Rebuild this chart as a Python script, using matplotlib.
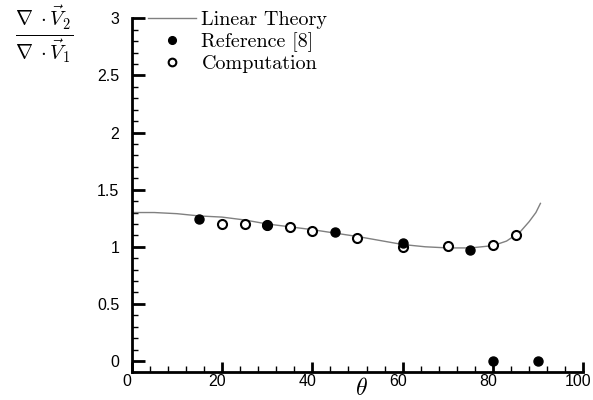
import numpy as np
import matplotlib
matplotlib.use("Agg")
import matplotlib.pyplot as plt
import matplotlib.transforms as mtransforms
from matplotlib.ticker import MultipleLocator

plt.rcParams['mathtext.fontset'] = 'cm'

# linear theory curve
theory_x = [0, 5, 10, 15, 20, 25, 30, 35, 40, 45, 50, 55, 60, 65, 70, 75, 80, 83, 86, 88, 89.5, 90.5]
theory_y = [1.30, 1.30, 1.29, 1.27, 1.26, 1.235, 1.20, 1.175, 1.15, 1.12, 1.09, 1.055, 1.02, 1.00, 0.99, 0.99, 1.01, 1.05, 1.13, 1.22, 1.30, 1.38]

# Reference [8]
ref_x = [15, 30, 45, 60, 75, 80, 90]
ref_y = [1.24, 1.19, 1.13, 1.03, 0.97, 0.0, 0.0]

# Computation
comp_x = [20, 25, 30, 35, 40, 50, 60, 70, 80, 85]
comp_y = [1.20, 1.20, 1.19, 1.17, 1.14, 1.08, 1.00, 1.01, 1.02, 1.10]

fig = plt.figure(figsize=(5.93, 4.0), dpi=100)
ax = fig.add_axes([0.222, 0.069, 0.7617, 0.885])

ax.plot(theory_x, theory_y, color='#808080', lw=1.0, label='Linear Theory', zorder=2)
ax.plot(ref_x, ref_y, 'o', color='black', ms=6.5, label='Reference [8]', zorder=4, clip_on=False)
ax.plot(comp_x, comp_y, 'o', mfc='white', mec='black', mew=1.5, ms=6.5, label='Computation', zorder=3)

ax.set_xlim(0, 100)
ax.set_ylim(-0.1, 3)
ax.set_yticks([0, 0.5, 1, 1.5, 2, 2.5, 3])
ax.set_yticklabels(['0', '0.5', '1', '1.5', '2', '2.5', '3'])
ax.xaxis.set_major_locator(MultipleLocator(20))
ax.xaxis.set_minor_locator(MultipleLocator(4))
ax.yaxis.set_minor_locator(MultipleLocator(0.1))

for s in ['top', 'right']:
    ax.spines[s].set_visible(False)
for s in ['left', 'bottom']:
    ax.spines[s].set_linewidth(2)

ax.tick_params(which='major', direction='in', length=7, width=2)
ax.tick_params(which='minor', direction='in', length=4, width=1)
ax.tick_params(axis='y', which='major', length=9, pad=9)
ax.tick_params(axis='x', which='major', pad=1)
shift = mtransforms.ScaledTranslation(-5 / 100, 0, fig.dpi_scale_trans)
for lab in ax.get_xticklabels():
    lab.set_transform(lab.get_transform() + shift)
for lab in ax.get_xticklabels() + ax.get_yticklabels():
    lab.set_fontfamily('Liberation Sans')
    lab.set_fontsize(11.5)

fig.text(0.074, 0.915, r'$\frac{\nabla\;\cdot\vec{V}_2}{\nabla\;\cdot\vec{V}_1}$',
         fontsize=21, ha='center', va='center')
fig.text(0.61, 0.03, r'$\theta$', fontsize=17, ha='center', va='center')

ax.legend(loc='upper left', bbox_to_anchor=(0.2496, 0.9725), bbox_transform=fig.transFigure,
          frameon=False, prop={'family': 'cmr10', 'size': 14.5},
          handlelength=2.4, handletextpad=0.25, labelspacing=0.15, borderpad=0.0,
          borderaxespad=0.0, markerscale=0.85)

fig.savefig('out.png', dpi=100)
